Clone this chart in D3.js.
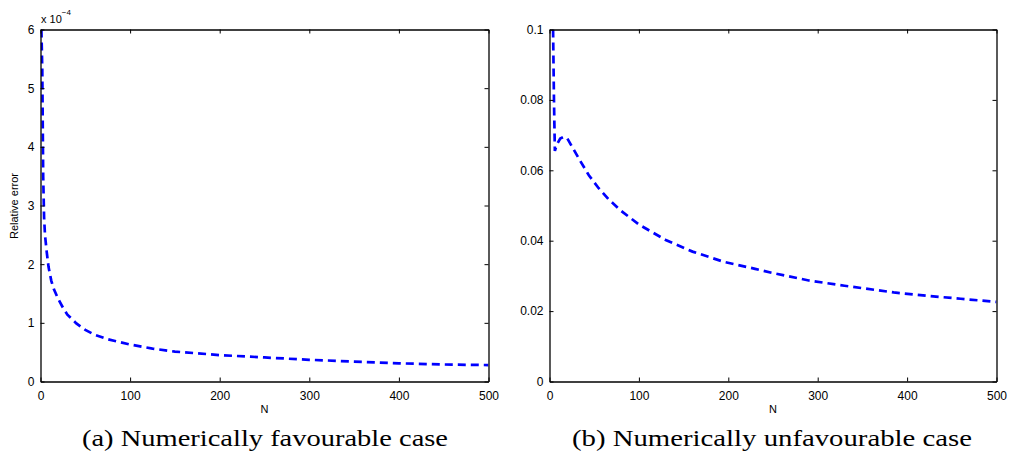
<!DOCTYPE html>
<meta charset="utf-8">
<html>
<style>
  body { margin: 0; background: #fff; }
  svg text { font-family: "Liberation Sans", Arial, sans-serif; fill: #000; }
  svg text.caption { font-family: "Liberation Serif", "DejaVu Serif", serif; }
  .axis path, .axis line { stroke: #000; }
</style>
<body>
<div id="chart"></div>
<script src="https://d3js.org/d3.v7.min.js"></script>
<script>
// ----- data -----
// (a) favourable case, error in units of 1e-4
const nA = [1, 2, 3, 4, 5, 7, 9, 12, 15, 20, 25, 30, 40, 50, 60, 75, 100, 125, 150, 175, 200, 250, 300, 350, 400, 450, 500];
const errA = [6.0, 5.3, 3.5, 2.8, 2.5, 2.2, 1.95, 1.72, 1.57, 1.4, 1.26, 1.14, 0.99, 0.88, 0.8, 0.72, 0.63, 0.56, 0.51, 0.48, 0.45, 0.41, 0.37, 0.34, 0.31, 0.29, 0.28];
// (b) unfavourable case
const nB = [4, 5, 6, 8, 12, 16, 20, 25, 30, 35, 44, 55, 66, 79, 100, 130, 160, 195, 230, 250, 290, 330, 385, 425, 460, 500];
const errB = [0.100, 0.080, 0.0655, 0.0672, 0.0690, 0.0695, 0.0690, 0.0668, 0.0646, 0.0624, 0.0586, 0.0549, 0.0518, 0.0487, 0.0446, 0.0402, 0.0369, 0.0340, 0.0320, 0.0308, 0.0287, 0.0272, 0.0253, 0.0243, 0.0235, 0.0226];

const xTicks = [0, 100, 200, 300, 400, 500];
const yTicksA = [0, 1, 2, 3, 4, 5, 6];
const yTicksB = [0, 0.02, 0.04, 0.06, 0.08, 0.1];
const captions = ["(a)  Numerically favourable case", "(b)  Numerically unfavourable case"];

const W = 1009, H = 455;
const svg = d3.select("#chart").append("svg")
    .attr("width", W).attr("height", H);

// one panel = box, ticks on all four sides, dashed line
function panel(cfg) {
  const x = d3.scaleLinear().domain([0, 500]).range([cfg.left, cfg.right]);
  const y = d3.scaleLinear().domain(cfg.ydom).range([381.5, 29.5]);
  const g = svg.append("g");

  // clip the curve to the axes
  g.append("clipPath").attr("id", cfg.id)
    .append("rect")
      .attr("x", cfg.left).attr("y", 29.5)
      .attr("width", cfg.right - cfg.left).attr("height", 352);

  g.append("path")
    .datum(cfg.n.map((d, i) => [d, cfg.v[i]]))
    .attr("clip-path", "url(#" + cfg.id + ")")
    .attr("fill", "none")
    .attr("stroke", "#0000ff")
    .attr("stroke-width", 2.7)
    .attr("stroke-dasharray", "8,5")
    .attr("d", d3.line().x(d => x(d[0])).y(d => y(d[1])));

  const tk = 4;
  const fs = "12px";
  // bottom + top
  g.append("g").attr("class", "axis")
    .attr("transform", "translate(0,381.5)")
    .call(d3.axisBottom(x).tickValues(xTicks).tickSize(-tk).tickPadding(10).tickSizeOuter(0))
    .call(a => a.selectAll("text").attr("font-size", fs));
  g.append("g").attr("class", "axis")
    .attr("transform", "translate(0,29.5)")
    .call(d3.axisTop(x).tickValues(xTicks).tickSize(-tk).tickFormat("").tickSizeOuter(0));
  // left + right
  g.append("g").attr("class", "axis")
    .attr("transform", "translate(" + cfg.left + ",0)")
    .call(d3.axisLeft(y).tickValues(cfg.yticks).tickSize(-tk).tickPadding(6)
      .tickFormat(cfg.yfmt).tickSizeOuter(0))
    .call(a => a.selectAll("text").attr("font-size", fs));
  g.append("g").attr("class", "axis")
    .attr("transform", "translate(" + cfg.right + ",0)")
    .call(d3.axisRight(y).tickValues(cfg.yticks).tickSize(-tk).tickFormat("").tickSizeOuter(0));
  g.selectAll(".axis path").attr("stroke-width", 1.3);

  // x label
  g.append("text")
    .attr("x", (cfg.left + cfg.right) / 2).attr("y", 413)
    .attr("text-anchor", "middle").attr("font-size", "11px")
    .text("N");

  // caption
  g.append("text").attr("class", "caption")
    .attr("x", cfg.capX).attr("y", 446)
    .attr("text-anchor", "middle").attr("font-size", "23px")
    .attr("textLength", cfg.capW).attr("lengthAdjust", "spacingAndGlyphs")
    .text(cfg.caption);
}

panel({ id: "clipA", left: 40.5, right: 488.5, ydom: [0, 6], n: nA, v: errA,
        yticks: yTicksA, yfmt: d3.format("d"), caption: captions[0], capX: 265, capW: 366 });
panel({ id: "clipB", left: 549.5, right: 996.5, ydom: [0, 0.1], n: nB, v: errB,
        yticks: yTicksB, yfmt: d => d === 0 ? "0" : String(+d.toFixed(2)), caption: captions[1], capX: 772, capW: 400 });

// y label and exponent of panel (a)
svg.append("text")
  .attr("transform", "translate(18,206) rotate(-90)")
  .attr("text-anchor", "middle").attr("font-size", "11px")
  .text("Relative error");

const ex = svg.append("text").attr("x", 41).attr("y", 23).attr("font-size", "11px");
ex.append("tspan").text("x 10");
ex.append("tspan").attr("dy", -8).attr("font-size", "8px").text("\u22124");
</script>
</body>
</html>
